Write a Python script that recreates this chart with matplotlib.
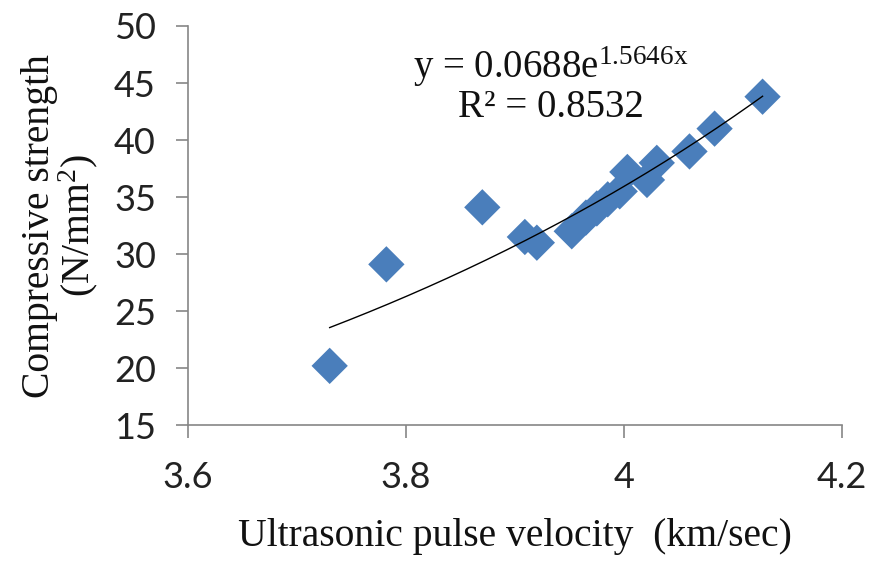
import numpy as np
import matplotlib
matplotlib.use("Agg")
import matplotlib.pyplot as plt
from matplotlib.ticker import FixedLocator

velocity = [3.730, 3.782, 3.870, 3.909, 3.920, 3.952, 3.965, 3.975, 3.985, 3.996,
            4.003, 4.021, 4.030, 4.060, 4.083, 4.127]
strength = [20.2, 29.1, 34.1, 31.5, 31.0, 32.0, 33.2, 34.0, 34.8, 35.5,
            37.2, 36.5, 38.0, 39.0, 41.0, 43.8]
fit_a = 0.0688
fit_b = 1.5646
x_ticks = [3.6, 3.8, 4.0, 4.2]
x_tick_labels = ["3.6", "3.8", "4", "4.2"]
y_ticks = [15, 20, 25, 30, 35, 40, 45, 50]

serif = "Liberation Serif"
plt.rcParams["mathtext.fontset"] = "custom"
plt.rcParams["mathtext.rm"] = serif
plt.rcParams["mathtext.it"] = serif

fig = plt.figure(figsize=(8.7, 5.65), dpi=100)
ax = fig.add_axes([0.216, 0.2475, 0.752, 0.7065])

ax.scatter(velocity, strength, marker="D", s=18.5**2, color="#4a7ebb",
           edgecolors="none", zorder=2)
xf = np.linspace(min(velocity), max(velocity), 200)
ax.plot(xf, fit_a * np.exp(fit_b * xf), color="black", lw=1.0, zorder=3)

ax.set_xlim(3.6, 4.2)
ax.set_ylim(15, 50)
ax.xaxis.set_major_locator(FixedLocator(x_ticks))
ax.set_xticklabels(x_tick_labels)
ax.set_yticks(y_ticks)

for s in ["top", "right"]:
    ax.spines[s].set_visible(False)
for s in ["left", "bottom"]:
    ax.spines[s].set_color("#868686")
    ax.spines[s].set_linewidth(1.2)
ax.tick_params(axis="both", direction="out", length=9, width=1.2, color="#868686",
               labelsize=26, labelcolor="#222222")
for lab in ax.get_xticklabels() + ax.get_yticklabels():
    lab.set_family("Lato")
ax.tick_params(axis="x", pad=17)
ax.tick_params(axis="y", pad=14)

ax.set_xlabel("Ultrasonic pulse velocity  (km/sec)", family=serif, fontsize=28.5,
              labelpad=17, color="#111111")
ax.set_ylabel("Compressive strength\n(N/mm$^2$)", family=serif, fontsize=28.5,
              linespacing=0.95, labelpad=10, color="#111111")

ax.text(0.555, 0.898, r"y = 0.0688e$^{\mathrm{1.5646x}}$", transform=ax.transAxes,
        ha="center", va="center", family=serif, fontsize=28, color="#111111")
ax.text(0.555, 0.795, "R² = 0.8532", transform=ax.transAxes,
        ha="center", va="center", family=serif, fontsize=28, color="#111111")

fig.savefig("out.png", dpi=100)
